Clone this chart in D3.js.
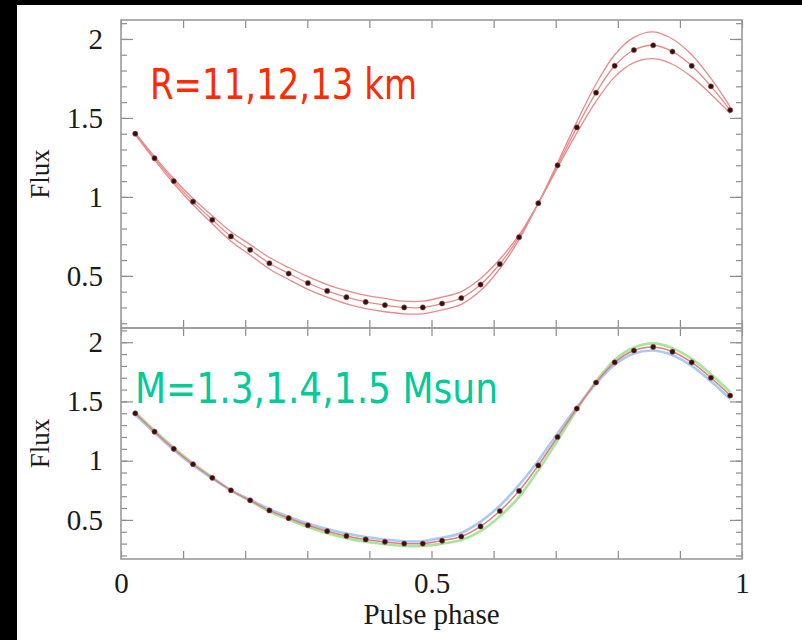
<!DOCTYPE html>
<html>
<head>
<meta charset="utf-8">
<script src="https://cdn.jsdelivr.net/npm/d3@7"></script>
<style>
  html, body { margin: 0; padding: 0; background: #000; }
  svg { display: block; }
</style>
</head>
<body>
<div id="chart"></div>
<script>
// pulse phase of each model point
const phase = [0.023, 0.054, 0.085, 0.116, 0.147, 0.177, 0.208, 0.239, 0.270, 0.301, 0.332, 0.363,
  0.394, 0.425, 0.456, 0.486, 0.517, 0.548, 0.579, 0.610, 0.641, 0.672, 0.703, 0.734,
  0.765, 0.795, 0.826, 0.857, 0.888, 0.919, 0.950, 0.981]

// R = 12 km, M = 1.4 Msun (dotted curve, same in both panels)
const fluxMid = [1.40, 1.245, 1.10, 0.97, 0.855, 0.75, 0.665, 0.58, 0.515, 0.455, 0.405, 0.365,
  0.335, 0.315, 0.30, 0.30, 0.325, 0.36, 0.445, 0.575, 0.745, 0.96, 1.20, 1.44,
  1.66, 1.83, 1.93, 1.96, 1.92, 1.83, 1.70, 1.55]

// top panel: R = 11 and 13 km
const fluxR11 = [1.405, 1.255, 1.115, 0.99, 0.88, 0.78, 0.698, 0.616, 0.553, 0.495, 0.445, 0.407,
  0.377, 0.357, 0.34, 0.34, 0.365, 0.40, 0.483, 0.605, 0.76, 0.96, 1.185, 1.405,
  1.605, 1.76, 1.85, 1.875, 1.84, 1.76, 1.65, 1.53]
const fluxR13 = [1.395, 1.235, 1.085, 0.95, 0.83, 0.72, 0.632, 0.544, 0.477, 0.415, 0.365, 0.323,
  0.293, 0.273, 0.26, 0.26, 0.285, 0.32, 0.407, 0.545, 0.73, 0.96, 1.215, 1.475,
  1.715, 1.90, 2.01, 2.045, 2.00, 1.90, 1.75, 1.57]

// bottom panel: M = 1.3 (blue) and 1.5 (green) Msun
const fluxM13 = [1.39, 1.235, 1.09, 0.962, 0.85, 0.75, 0.67, 0.59, 0.527, 0.47, 0.423, 0.385,
  0.355, 0.335, 0.32, 0.32, 0.35, 0.39, 0.485, 0.62, 0.795, 1.00, 1.23, 1.45,
  1.65, 1.81, 1.905, 1.93, 1.89, 1.80, 1.67, 1.52]
const fluxM15 = [1.41, 1.255, 1.11, 0.978, 0.86, 0.75, 0.66, 0.57, 0.503, 0.44, 0.387, 0.345,
  0.315, 0.295, 0.28, 0.28, 0.30, 0.33, 0.405, 0.53, 0.695, 0.92, 1.17, 1.43,
  1.67, 1.85, 1.955, 1.99, 1.95, 1.86, 1.73, 1.58]

const xTicks = [0, 0.1, 0.2, 0.3, 0.4, 0.5, 0.6, 0.7, 0.8, 0.9, 1]
const xLabels = [0, 0.5, 1]
const yTicks = [0.2, 0.3, 0.4, 0.5, 0.6, 0.7, 0.8, 0.9, 1, 1.1, 1.2, 1.3, 1.4, 1.5, 1.6, 1.7, 1.8, 1.9, 2, 2.1]
const yLabels = [0.5, 1, 1.5, 2]

const W = 802, H = 640
const left = 121, right = 742
const tickColor = '#8c8c8c'
const serif = '"Liberation Serif", "DejaVu Serif", serif'

const svg = d3.select('#chart')
  .append('svg')
  .attr('width', W)
  .attr('height', H)

svg.append('rect').attr('width', W).attr('height', H).attr('fill', '#000')
svg.append('rect').attr('x', 17).attr('y', 5).attr('width', W - 17).attr('height', H - 5).attr('fill', '#fff')

const x = d3.scaleLinear().domain([0, 1]).range([left, right])

const styleAxis = g => {
  g.select('.domain').remove()
  g.selectAll('line').attr('stroke', tickColor).attr('stroke-width', 1.2)
  g.selectAll('text')
    .attr('fill', '#1a1a1a')
    .style('font-family', serif)
    .style('font-size', '29px')
}

const drawPanel = (top, bottom, showXLabels) => {
  const y = d3.scaleLinear().domain([0.17, 2.12]).range([bottom, top])
  const g = svg.append('g')

  // minor and major ticks on all four sides, pointing inward
  g.append('g').attr('transform', `translate(${left},0)`)
    .call(d3.axisLeft(y).tickValues(yTicks).tickSize(-6).tickSizeOuter(0).tickFormat(''))
    .call(styleAxis)
  g.append('g').attr('transform', `translate(${left},0)`)
    .call(d3.axisLeft(y).tickValues(yLabels).tickSize(-12).tickSizeOuter(0).tickPadding(18).tickFormat(d => String(d)))
    .call(styleAxis)
  g.append('g').attr('transform', `translate(${right},0)`)
    .call(d3.axisRight(y).tickValues(yTicks).tickSize(-6).tickSizeOuter(0).tickFormat(''))
    .call(styleAxis)
  g.append('g').attr('transform', `translate(${right},0)`)
    .call(d3.axisRight(y).tickValues(yLabels).tickSize(-12).tickSizeOuter(0).tickFormat(''))
    .call(styleAxis)
  g.append('g').attr('transform', `translate(0,${top})`)
    .call(d3.axisTop(x).tickValues(xTicks).tickSize(-8).tickSizeOuter(0).tickFormat(''))
    .call(styleAxis)
  g.append('g').attr('transform', `translate(0,${bottom})`)
    .call(d3.axisBottom(x).tickValues(xTicks).tickSize(-8).tickSizeOuter(0).tickFormat(''))
    .call(styleAxis)
  if (showXLabels) {
    g.append('g').attr('transform', `translate(0,${bottom})`)
      .call(d3.axisBottom(x).tickValues(xLabels).tickSize(0).tickSizeOuter(0).tickPadding(13).tickFormat(d => String(d)))
      .call(styleAxis)
  }

  g.append('rect')
    .attr('x', left).attr('y', top)
    .attr('width', right - left).attr('height', bottom - top)
    .attr('fill', 'none')
    .attr('stroke', '#9a9a9a')
    .attr('stroke-width', 1.6)

  g.append('text')
    .attr('transform', `translate(40,${(top + bottom) / 2}) rotate(-90)`)
    .attr('text-anchor', 'middle')
    .attr('dy', '0.35em')
    .style('font-family', serif)
    .style('font-size', '27px')
    .attr('fill', '#1a1a1a')
    .text('Flux')

  return y
}

const yTop = drawPanel(20, 328, false)
const yBot = drawPanel(328, 559, true)

const lineFor = y => d3.line()
  .x((d, i) => x(phase[i]))
  .y(d => y(d))
  .curve(d3.curveCatmullRom)

const drawDots = (y, values) => {
  svg.append('g')
    .selectAll('circle')
    .data(values)
    .enter()
    .append('circle')
    .attr('cx', (d, i) => x(phase[i]))
    .attr('cy', d => y(d))
    .attr('r', 2.6)
    .attr('fill', '#2a1414')
    .attr('stroke', 'rgba(190,70,70,0.55)')
    .attr('stroke-width', 1)
}

// top panel: three radii
const topLine = lineFor(yTop)
;[fluxR11, fluxMid, fluxR13].forEach(vals => {
  svg.append('path')
    .attr('d', topLine(vals))
    .attr('fill', 'none')
    .attr('stroke', '#e98a8a')
    .attr('stroke-width', 1.3)
})
drawDots(yTop, fluxMid)

// bottom panel: three masses
const botLine = lineFor(yBot)
svg.append('path').attr('d', botLine(fluxM15))
  .attr('fill', 'none').attr('stroke', '#a6e69a').attr('stroke-width', 2.6)
svg.append('path').attr('d', botLine(fluxM13))
  .attr('fill', 'none').attr('stroke', '#a9cbf2').attr('stroke-width', 2.6)
svg.append('path').attr('d', botLine(fluxMid))
  .attr('fill', 'none').attr('stroke', '#e57b7b').attr('stroke-width', 1.5)
drawDots(yBot, fluxMid)

// x axis title
svg.append('text')
  .attr('x', x(0.5))
  .attr('y', 624)
  .attr('text-anchor', 'middle')
  .style('font-family', serif)
  .style('font-size', '29px')
  .attr('fill', '#1a1a1a')
  .text('Pulse phase')

// annotations
svg.append('text')
  .attr('x', 150)
  .attr('y', 99)
  .attr('textLength', 267)
  .attr('lengthAdjust', 'spacingAndGlyphs')
  .style('font-family', '"Comic Sans MS", "DejaVu Sans", sans-serif')
  .style('font-size', '42px')
  .attr('fill', '#ff2a00')
  .text('R=11,12,13 km')

svg.append('text')
  .attr('x', 135)
  .attr('y', 403)
  .attr('textLength', 363)
  .attr('lengthAdjust', 'spacingAndGlyphs')
  .style('font-family', '"Comic Sans MS", "DejaVu Sans", sans-serif')
  .style('font-size', '42px')
  .attr('fill', '#00cc99')
  .text('M=1.3,1.4,1.5 Msun')
</script>
</body>
</html>
